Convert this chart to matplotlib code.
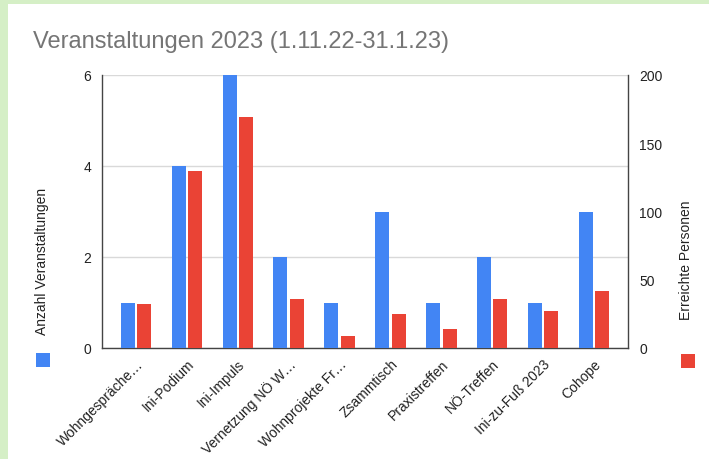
"""
Veranstaltungen 2023 (1.11.22-31.1.23): Anzahl und erreichte Personen
"""

import numpy as np
import matplotlib.pyplot as plt
from matplotlib.patches import Rectangle

plt.rcParams['font.family'] = ['Liberation Sans', 'DejaVu Sans']

# Daten
kategorien = ["Wohngespräche…", "Ini-Podium", "Ini-Impuls", "Vernetzung NÖ W…",
              "Wohnprojekte Fr…", "Zsammtisch", "Praxistreffen", "NÖ-Treffen",
              "Ini-zu-Fuß 2023", "Cohope"]
anzahl = [1, 4, 6, 2, 1, 3, 1, 2, 1, 3]
personen = [32, 130, 169, 36, 9, 25, 14, 36, 27, 42]

BLAU = "#4285f4"
ROT = "#ea4335"
GRUEN = "#d5efc6"

fig = plt.figure(figsize=(7.09, 4.60), dpi=100)
fig.patch.set_facecolor("white")

#! grüner Rand oben und links
fig.patches.append(Rectangle((0, 0), 8 / 709, 1, transform=fig.transFigure,
                             facecolor=GRUEN, edgecolor="none", zorder=0))
fig.patches.append(Rectangle((0, 1 - 5 / 460), 1, 5 / 460, transform=fig.transFigure,
                             facecolor=GRUEN, edgecolor="none", zorder=0))

ax = fig.add_axes([102 / 709, 1 - 349 / 460, (628 - 102) / 709, (349 - 76) / 460])
ax2 = ax.twinx()

x = np.arange(len(kategorien))
w = 0.275
off = 0.162

ax.bar(x - off, anzahl, width=w, color=BLAU, zorder=3)
ax2.bar(x + off, personen, width=w, color=ROT, zorder=3)

ax.set_ylim(0, 6)
ax2.set_ylim(0, 200)
ax.set_yticks([0, 2, 4, 6])
ax2.set_yticks([0, 50, 100, 150, 200])
ax.set_xlim(-0.67, len(kategorien) - 0.33)

ax.grid(axis="y", color="#d9d9d9", linewidth=1, zorder=0)
ax.set_axisbelow(True)
ax2.set_zorder(ax.get_zorder() + 1)
ax2.patch.set_visible(False)

for a in (ax, ax2):
    a.spines["top"].set_visible(False)
    for s in ("left", "right", "bottom"):
        a.spines[s].set_color("#444444")
        a.spines[s].set_linewidth(1)
    a.tick_params(axis="y", length=0, labelsize=10, colors="#222222", pad=8)
ax.spines["right"].set_visible(False)
ax2.spines["left"].set_visible(False)
ax2.spines["bottom"].set_visible(False)

ax.set_xticks(x)
ax.set_xticklabels(kategorien, rotation=45, ha="right", rotation_mode="anchor",
                   fontsize=10, color="#222222")
ax.tick_params(axis="x", length=0, pad=6)

fig.text(33 / 709, 1 - 42 / 460, "Veranstaltungen 2023 (1.11.22-31.1.23)",
         fontsize=17, color="#757575", va="center", ha="left")

#? Achsentitel mit Legendenfeld
fig.text(42 / 709, 1 - 261 / 460, "Anzahl Veranstaltungen", rotation=90,
         fontsize=10, color="#222222", ha="center", va="center")
fig.text(686 / 709, 1 - 260 / 460, "Erreichte Personen", rotation=90,
         fontsize=10, color="#222222", ha="center", va="center")
fig.patches.append(Rectangle((36 / 709, 1 - 368 / 460), 14 / 709, 14 / 460,
                             transform=fig.transFigure, facecolor=BLAU, edgecolor="none"))
fig.patches.append(Rectangle((681 / 709, 1 - 369 / 460), 14 / 709, 14 / 460,
                             transform=fig.transFigure, facecolor=ROT, edgecolor="none"))

fig.savefig("out.png", dpi=100)
